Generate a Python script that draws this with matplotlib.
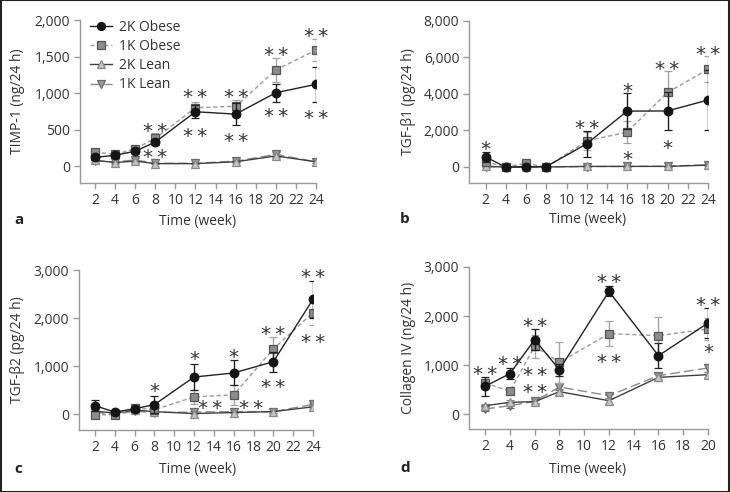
import matplotlib
matplotlib.use("Agg")
import matplotlib.pyplot as plt
from matplotlib.ticker import FuncFormatter
from matplotlib.patches import Rectangle
from matplotlib.lines import Line2D

plt.rcParams['font.family'] = ['Open Sans', 'DejaVu Sans']

# ---------------- data ----------------
weeks_abc = [2, 4, 6, 8, 12, 16, 20, 24]
weeks_d = [2, 4, 6, 8, 12, 16, 20]
series_names = ["2K Obese", "1K Obese", "2K Lean", "1K Lean"]

# Panel a: TIMP-1 (ng/24 h)
timp_2k_obese = [120, 150, 205, 330, 745, 712, 1005, 1120]
timp_2k_obese_err = [30, 30, 30, 40, 90, 150, 125, 235]
timp_1k_obese = [195, 160, 240, 380, 800, 820, 1315, 1590]
timp_1k_obese_err = [40, 30, 40, 75, 80, 85, 170, 155]
timp_2k_lean = [80, 50, 70, 35, 35, 60, 140, 60]
timp_2k_lean_err = [20, 15, 20, 10, 10, 15, 25, 15]
timp_1k_lean = [70, 60, 85, 40, 40, 70, 160, 60]
timp_1k_lean_err = [20, 15, 25, 10, 10, 15, 30, 15]

# Panel b: TGF-b1 (pg/24 h)
tgfb1_2k_obese = [545, -10, 0, 20, 1270, 3060, 3070, 3670]
tgfb1_2k_obese_err = [300, 40, 40, 40, 720, 1000, 1040, 1630]
tgfb1_1k_obese = [280, 0, 200, 0, 1430, 1910, 4090, 5350]
tgfb1_1k_obese_err = [150, 40, 80, 40, 500, 600, 1150, 720]
tgfb1_2k_lean = [30, 0, 10, 0, 30, 30, 30, 100]
tgfb1_2k_lean_err = [30, 20, 20, 20, 30, 30, 30, 40]
tgfb1_1k_lean = [20, -20, 20, 0, 20, 30, 40, 120]
tgfb1_1k_lean_err = [30, 20, 20, 20, 30, 30, 30, 40]

# Panel c: TGF-b2 (pg/24 h)
tgfb2_2k_obese = [175, 40, 110, 195, 770, 855, 1090, 2390]
tgfb2_2k_obese_err = [110, 30, 40, 170, 275, 260, 205, 390]
tgfb2_1k_obese = [-15, -15, 125, 90, 355, 400, 1355, 2110]
tgfb2_1k_obese_err = [60, 40, 40, 60, 150, 210, 250, 265]
tgfb2_2k_lean = [60, 20, 80, 50, 10, 30, 50, 150]
tgfb2_2k_lean_err = [20, 15, 20, 15, 15, 15, 20, 30]
tgfb2_1k_lean = [40, -10, 60, 30, 40, 50, 50, 200]
tgfb2_1k_lean_err = [20, 15, 20, 15, 15, 15, 20, 30]

# Panel d: Collagen IV (ng/24 h)
col_2k_obese = [565, 823, 1517, 905, 2503, 1190, 1857]
col_2k_obese_err = [190, 117, 220, 125, 100, 250, 300]
col_1k_obese = [633, 463, 1380, 1054, 1640, 1600, 1735]
col_1k_obese_err = [80, 30, 240, 420, 260, 370, 220]
col_2k_lean = [170, 238, 252, 456, 272, 748, 803]
col_2k_lean_err = [40, 40, 40, 60, 60, 80, 50]
col_1k_lean = [102, 170, 258, 551, 374, 782, 939]
col_1k_lean_err = [40, 40, 40, 60, 40, 60, 80]

# significance marks (week, level, label)
stars_a = [(8, 560, "**"), (8, 195, "**"), (12, 1020, "**"), (12, 490, "**"),
           (16, 1020, "**"), (16, 425, "**"), (20, 1590, "**"), (20, 765, "**"),
           (24, 1860, "**"), (24, 730, "**")]
stars_b = [(2, 1270, "*"), (12, 2430, "**"), (16, 4490, "*"), (16, 760, "*"),
           (20, 5670, "**"), (20, 1340, "*"), (24, 6490, "**")]
stars_c = [(8, 590, "*"), (12, 1260, "*"), (13.6, 245, "**"), (16, 1310, "*"),
           (17.8, 250, "**"), (20, 1775, "**"), (20, 670, "**"), (24, 2960, "**"),
           (24, 1610, "**")]
stars_d = [(2, 925, "**"), (4, 1143, "**"), (6, 1912, "**"), (6, 918, "**"),
           (6, 565, "**"), (12, 2810, "**"), (12, 1177, "**"), (20, 2333, "**"),
           (20, 1380, "*")]

ylabels = ["TIMP-1 (ng/24 h)", "TGF-β1 (pg/24 h)", "TGF-β2 (pg/24 h)", "Collagen IV (ng/24 h)"]
panel_letters = ["a", "b", "c", "d"]
xticks_abc = [2, 4, 6, 8, 10, 12, 14, 16, 18, 20, 22, 24]
xticks_d = [2, 4, 6, 8, 10, 12, 14, 16, 18, 20]
yticks_a = [0, 500, 1000, 1500, 2000]
yticks_b = [0, 2000, 4000, 6000, 8000]
yticks_c = [0, 1000, 2000, 3000]
yticks_d = [0, 1000, 2000, 3000]

# ---------------- styles ----------------
styles = {
    "2K Obese": dict(marker='o', mfc='#151515', mec='#151515', color='#222222',
                     ls='-', ecolor='#222222', ms=6.2, z=6),
    "1K Obese": dict(marker='s', mfc='#8c8c8c', mec='#555555', color='#9a9a9a',
                     ls=(0, (3, 2)), ecolor='#a5a5a5', ms=6.0, z=5),
    "2K Lean": dict(marker='^', mfc='#c4c4c4', mec='#8a8a8a', color='#404040',
                    ls='-', ecolor='#8a8a8a', ms=6.0, z=4),
    "1K Lean": dict(marker='v', mfc='#9c9c9c', mec='#6a6a6a', color='#8a8a8a',
                    ls=(0, (7, 3)), ecolor='#6a6a6a', ms=6.0, z=3),
}

W, H = 730, 492
fig = plt.figure(figsize=(W / 100, H / 100), dpi=100)


def px_axes(l, t, r, b):
    return fig.add_axes([l / W, 1 - b / H, (r - l) / W, (b - t) / H])


panels = [
    dict(box=(80, 20, 316, 183), x=weeks_abc, xlim=(0.5, 24), ylim=(-230, 2000),
         xt=xticks_abc, yt=yticks_a,
         data=[(timp_2k_obese, timp_2k_obese_err), (timp_1k_obese, timp_1k_obese_err),
               (timp_2k_lean, timp_2k_lean_err), (timp_1k_lean, timp_1k_lean_err)],
         stars=stars_a, ylab_x=18, letter=(14, 220), xlab=(198, 221)),
    dict(box=(469, 21, 708, 183), x=weeks_abc, xlim=(0.35, 24), ylim=(-880, 8000),
         xt=xticks_abc, yt=yticks_b,
         data=[(tgfb1_2k_obese, tgfb1_2k_obese_err), (tgfb1_1k_obese, tgfb1_1k_obese_err),
               (tgfb1_2k_lean, tgfb1_2k_lean_err), (tgfb1_1k_lean, tgfb1_1k_lean_err)],
         stars=stars_b, ylab_x=408, letter=(400, 219), xlab=(588, 220)),
    dict(box=(79, 270, 313, 430), x=weeks_abc, xlim=(0.4, 24), ylim=(-333, 3000),
         xt=xticks_abc, yt=yticks_c,
         data=[(tgfb2_2k_obese, tgfb2_2k_obese_err), (tgfb2_1k_obese, tgfb2_1k_obese_err),
               (tgfb2_2k_lean, tgfb2_2k_lean_err), (tgfb2_1k_lean, tgfb2_1k_lean_err)],
         stars=stars_c, ylab_x=18, letter=(14, 469), xlab=(198, 470)),
    dict(box=(469, 267, 708, 429), x=weeks_d, xlim=(0.7, 20), ylim=(-306, 3000),
         xt=xticks_d, yt=yticks_d,
         data=[(col_2k_obese, col_2k_obese_err), (col_1k_obese, col_1k_obese_err),
               (col_2k_lean, col_2k_lean_err), (col_1k_lean, col_1k_lean_err)],
         stars=stars_d, ylab_x=408, letter=(400, 468), xlab=(588, 469)),
]

fmt = FuncFormatter(lambda v, p: f"{int(round(v)):,}")

for i, P in enumerate(panels):
    ax = px_axes(*P["box"])
    order = [3, 2, 1, 0]
    for k in order:
        name = series_names[k]
        st = styles[name]
        y, e = P["data"][k]
        ax.errorbar(P["x"], y, yerr=e, marker=st['marker'], ms=st['ms'],
                    mfc=st['mfc'], mec=st['mec'], mew=0.9, color=st['color'],
                    ls=st['ls'], lw=1.0, ecolor=st['ecolor'], elinewidth=1.0,
                    capsize=3.2, capthick=1.0, zorder=st['z'])
    ax.set_xlim(*P["xlim"])
    ax.set_ylim(*P["ylim"])
    ax.set_xticks(P["xt"])
    ax.set_yticks(P["yt"])
    ax.yaxis.set_major_formatter(fmt)
    for s in ["top", "right"]:
        ax.spines[s].set_visible(False)
    for s in ["left", "bottom"]:
        ax.spines[s].set_color('#9a9a9a')
        ax.spines[s].set_linewidth(1.0)
    ax.tick_params(axis='both', direction='out', length=4, width=1.0, color='#9a9a9a',
                   labelcolor='#333333', labelsize=10, pad=3)
    ax.set_facecolor('none')
    for (sx, sy, s) in P["stars"]:
        ax.annotate("\u2009".join(s), xy=(sx, sy), xytext=(0, -8.3),
                    textcoords='offset points', ha='center', va='baseline',
                    fontsize=14.5, family='DejaVu Sans', color='#333333', zorder=10,
                    annotation_clip=False)
    # labels
    l, t, r, b = P["box"]
    fig.text(P["ylab_x"] / W, 1 - ((t + b) / 2) / H, ylabels[i], rotation=90,
             ha='center', va='center', fontsize=10, color='#333333')
    fig.text(P["xlab"][0] / W, 1 - P["xlab"][1] / H, "Time (week)", ha='center',
             va='center', fontsize=10, color='#333333')
    fig.text(P["letter"][0] / W, 1 - P["letter"][1] / H, panel_letters[i], ha='left',
             va='center', fontsize=11, fontweight='bold', color='#222222')
    if i == 0:
        handles = []
        for name in series_names:
            st = styles[name]
            handles.append(Line2D([], [], marker=st['marker'], ms=st['ms'] - 0.5,
                                  mfc=st['mfc'], mec=st['mec'], mew=0.9,
                                  color=st['color'], ls=st['ls'], lw=1.0))
        ax.legend(handles, series_names, loc='upper left', bbox_to_anchor=(0.0, 1.06),
                  frameon=False, fontsize=10, handlelength=1.6, handletextpad=0.5,
                  labelspacing=0.3, borderaxespad=0.3, labelcolor='#333333')

fig.add_artist(Rectangle((0.001, 0.001), 0.998, 0.998, transform=fig.transFigure,
                         fill=False, edgecolor='#222222', lw=1.5))

fig.savefig("out.png", dpi=100)
